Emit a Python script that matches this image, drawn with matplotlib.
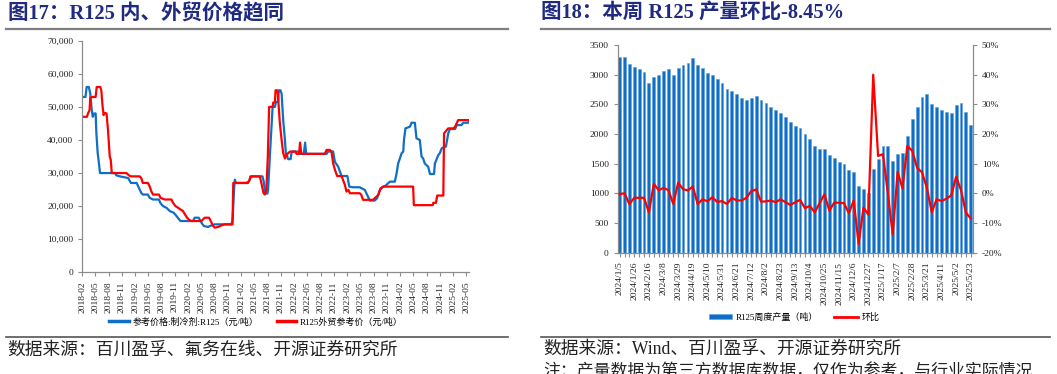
import numpy as np
import pandas as pd
import matplotlib
matplotlib.use("Agg")
import matplotlib.pyplot as plt
import matplotlib.dates as mdates
from matplotlib.lines import Line2D
from matplotlib.patches import Patch
from matplotlib.ticker import FuncFormatter

plt.rcParams['font.family'] = ['Liberation Serif', 'Noto Sans CJK SC']
plt.rcParams['axes.unicode_minus'] = False

# --- 图17 数据：R125 内、外贸价格 (元/吨) ---
blue_dates = ['2018-02-01', '2018-02-23', '2018-03-03', '2018-03-18', '2018-03-28', '2018-04-07',
              '2018-04-14', '2018-04-23', '2018-05-04', '2018-05-09', '2018-05-18', '2018-05-24',
              '2018-06-03', '2018-09-13', '2018-09-24', '2018-10-17', '2018-12-14', '2019-01-02',
              '2019-02-10', '2019-02-21', '2019-03-14', '2019-03-25', '2019-04-29', '2019-05-11',
              '2019-06-03', '2019-07-14', '2019-07-23', '2019-08-11', '2019-09-04', '2019-09-27',
              '2019-10-24', '2019-11-12', '2019-11-30', '2019-12-09', '2020-03-05', '2020-03-16',
              '2020-04-13', '2020-05-02', '2020-05-18', '2020-06-17', '2020-06-28', '2020-08-02',
              '2020-11-25', '2020-12-02', '2020-12-14', '2020-12-18', '2020-12-25', '2021-03-07',
              '2021-03-25', '2021-04-04', '2021-04-16', '2021-06-26', '2021-07-05', '2021-07-14',
              '2021-07-23', '2021-07-30', '2021-08-04', '2021-08-16', '2021-09-04', '2021-09-20',
              '2021-09-27', '2021-10-12', '2021-10-17', '2021-10-28', '2021-11-05', '2021-11-16',
              '2021-11-28', '2021-12-04', '2021-12-14', '2021-12-20', '2022-01-06', '2022-01-13',
              '2022-01-24', '2022-02-28', '2022-03-09', '2022-04-07', '2022-04-16', '2022-04-23',
              '2022-09-11', '2022-09-22', '2022-10-26', '2022-11-07', '2022-11-30', '2022-12-23',
              '2023-02-01', '2023-02-14', '2023-03-12', '2023-04-27', '2023-06-01', '2023-06-23',
              '2023-07-05', '2023-08-09', '2023-08-25', '2023-09-13', '2023-10-06', '2023-10-17',
              '2023-11-21', '2023-12-25', '2024-01-06', '2024-01-17', '2024-02-10', '2024-02-21',
              '2024-02-26', '2024-03-07', '2024-04-07', '2024-04-18', '2024-05-11', '2024-05-22',
              '2024-06-14', '2024-06-26', '2024-07-07', '2024-07-18', '2024-08-11', '2024-08-23',
              '2024-09-20', '2024-09-26', '2024-10-19', '2024-10-30', '2024-11-12', '2024-12-11',
              '2024-12-27', '2025-01-08', '2025-02-12', '2025-02-24', '2025-03-28', '2025-04-09',
              '2025-05-13', '2025-05-20']
blue_vals = [53000, 53000, 56000, 56000, 54000, 49000,
             47000, 48000, 48000, 42000, 36000, 34000,
             30000, 30000, 29300, 29000, 28500, 27000,
             27000, 26000, 24000, 23500, 23500, 22500,
             22000, 22000, 21000, 20000, 19500, 18500,
             18000, 17000, 16000, 15500, 15500, 16500,
             16500, 15000, 14000, 13700, 14000, 14500,
             14500, 16000, 26000, 28000, 27000, 27000,
             27500, 28500, 29000, 29000, 27400, 24400,
             23800, 23800, 25000, 35000, 50000, 50000,
             51500, 51500, 55000, 55000, 54000, 46000,
             40000, 36000, 35000, 34200, 34200, 36300,
             36500, 36500, 35800, 35800, 39200, 35800,
             35800, 36500, 36500, 33400, 31900, 29100,
             29100, 25900, 25700, 25700, 24900, 22900,
             21700, 21700, 22400, 24900, 25900, 26000,
             27400, 27400, 29900, 32900, 36000, 36500,
             40000, 43500, 44000, 45200, 45200, 40500,
             40000, 35000, 34400, 32900, 31900, 29700,
             29700, 32900, 35400, 36000, 37500, 38000,
             42000, 43300, 43300, 44500, 44500, 45200,
             45200, 45800]

red_dates = ['2018-02-01', '2018-03-05', '2018-03-12', '2018-03-23', '2018-03-28', '2018-04-11',
             '2018-05-04', '2018-05-11', '2018-06-05', '2018-06-12', '2018-06-21', '2018-06-28',
             '2018-07-03', '2018-07-18', '2018-07-28', '2018-08-09', '2018-08-16', '2018-08-23',
             '2018-12-02', '2018-12-14', '2018-12-29', '2019-03-03', '2019-03-14', '2019-03-25',
             '2019-04-29', '2019-05-11', '2019-05-22', '2019-06-03', '2019-07-14', '2019-07-25',
             '2019-08-23', '2019-10-08', '2019-10-19', '2019-11-05', '2019-11-23', '2019-12-09',
             '2019-12-27', '2020-01-09', '2020-01-24', '2020-02-08', '2020-02-24', '2020-05-02',
             '2020-05-13', '2020-05-24', '2020-06-23', '2020-07-05', '2020-07-21', '2020-08-02',
             '2020-08-25', '2020-09-17', '2020-10-10', '2020-12-02', '2020-12-07', '2021-03-18',
             '2021-03-30', '2021-04-04', '2021-06-08', '2021-06-21', '2021-07-03', '2021-07-12',
             '2021-07-23', '2021-08-02', '2021-08-11', '2021-09-04', '2021-09-08', '2021-09-20',
             '2021-09-24', '2021-10-06', '2021-10-10', '2021-10-24', '2021-11-05', '2021-11-16',
             '2021-11-21', '2021-11-28', '2021-12-09', '2021-12-20', '2022-01-02', '2022-02-06',
             '2022-02-17', '2022-03-05', '2022-03-12', '2022-03-21', '2022-08-29', '2022-09-11',
             '2022-10-03', '2022-10-14', '2022-10-26', '2022-11-07', '2022-11-23', '2022-12-23',
             '2023-01-15', '2023-01-26', '2023-02-08', '2023-02-19', '2023-04-27', '2023-05-08',
             '2023-05-20', '2023-07-28', '2023-09-02', '2023-09-18', '2023-10-06', '2024-04-29',
             '2024-05-04', '2024-09-11', '2024-09-15', '2024-10-03', '2024-10-12', '2024-11-23',
             '2024-11-28', '2024-12-27', '2025-02-01', '2025-02-12', '2025-03-05', '2025-05-20']
red_vals = [47000, 47000, 48000, 49000, 52800, 53000,
            53000, 56000, 56000, 55000, 50000, 47500,
            48200, 48000, 43000, 35000, 34000, 30000,
            30000, 29500, 29000, 29000, 28500, 27000,
            27000, 26000, 24500, 23500, 23500, 22500,
            22000, 22000, 21000, 20000, 19500, 19000,
            18500, 17500, 16500, 15800, 15500, 15500,
            16000, 16500, 16500, 15500, 14000, 13500,
            13700, 14200, 14500, 14500, 27000, 27000,
            28000, 29000, 29000, 26500, 24000, 23500,
            25000, 35000, 50000, 50000, 51300, 51300,
            55000, 55000, 54000, 45000, 40000, 36000,
            35400, 34400, 35500, 36000, 36500, 36500,
            35800, 35800, 39200, 35800, 35800, 37000,
            37000, 36500, 33000, 31000, 29100, 29100,
            26400, 24400, 24900, 23900, 23900, 23400,
            21900, 21900, 23400, 25400, 25900, 25900,
            20300, 20300, 21000, 21000, 23200, 23200,
            42000, 43500, 43500, 44000, 46000, 46000]

left_ticks = pd.date_range('2018-02-01', '2025-05-01', freq='3MS')

# --- 图18 数据：R125 周度产量 (吨) 与环比 (%) ---
weeks = pd.date_range('2024-01-05', '2025-05-23', freq='7D')
week_labels = [f"{d.year}/{d.month}/{d.day}" for d in weeks]
output = [3290, 3300, 3180, 3135, 3090, 3050, 2860, 2955, 3000, 3062,
          3100, 2995, 3107, 3163, 3202, 3278, 3163, 3112, 3034, 3000,
          2921, 2860, 2755, 2725, 2669, 2607, 2575, 2607, 2646, 2575,
          2517, 2461, 2399, 2360, 2287, 2197, 2135, 2096, 1994, 1910,
          1792, 1742, 1742, 1640, 1590, 1534, 1489, 1388, 1360, 1129,
          1073, 1000, 1404, 1584, 1798, 1798, 1539, 1663, 1685, 1966,
          2253, 2449, 2629, 2680, 2506, 2455, 2399, 2365, 2354, 2494,
          2522, 2365, 2157]
mom = [-0.2, 0.0, -3.6, -1.5, -1.5, -1.5, -6.4, 3.2, 1.1, 1.8,
       1.1, -3.6, 3.6, 1.4, 1.0, 2.3, -3.6, -2.0, -2.7, -1.3,
       -2.9, -2.6, -3.6, -1.5, -2.4, -2.4, -1.5, 0.8, 1.3, -2.8,
       -2.7, -2.4, -3.0, -2.0, -3.0, -3.9, -3.0, -2.2, -5.0, -4.2,
       -6.4, -3.3, -0.3, -5.8, -3.1, -3.2, -3.3, -6.7, -2.4, -17.0,
       -4.8, -7.2, 40.0, 12.6, 13.2, 0.0, -13.9, 7.2, 1.7, 16.0,
       14.3, 8.6, 7.1, 1.9, -6.4, -2.0, -2.6, -1.8, -0.7, 5.6,
       1.1, -6.5, -8.45]

BLUE = '#0F6FC6'
RED = '#FF0000'
NAVY = '#1F2A80'
SPINE = '#8C8C8C'
TXT = '#222222'

fig = plt.figure(figsize=(10.57, 3.74), dpi=100)


def style_axis(ax, sides):
    for s in ['top', 'right', 'left', 'bottom']:
        ax.spines[s].set_visible(s in sides)
        ax.spines[s].set_color(SPINE)
        ax.spines[s].set_linewidth(0.9)
    ax.tick_params(colors=SPINE, labelcolor=TXT, labelsize=6.8, length=3, width=0.8)


# ---------- 左图 ----------
ax1 = fig.add_axes([82.3 / 1057, 1 - 272.3 / 374, (469.3 - 82.3) / 1057, (272.3 - 40.7) / 374])
ax1.plot(pd.to_datetime(blue_dates), blue_vals, color=BLUE, lw=1.6)
ax1.plot(pd.to_datetime(red_dates), red_vals, color=RED, lw=1.6)
ax1.set_ylim(0, 70000)
ax1.set_yticks(np.arange(0, 70001, 10000))
ax1.yaxis.set_major_formatter(FuncFormatter(lambda v, p: f"{v:,.0f}"))
ax1.set_xlim(pd.Timestamp('2018-02-01'), pd.Timestamp('2025-05-21'))
ax1.set_xticks(left_ticks)
ax1.xaxis.set_major_formatter(mdates.DateFormatter('%Y-%m'))
style_axis(ax1, ['left', 'bottom'])
for lb in ax1.get_xticklabels():
    lb.set_rotation(90)

h1 = [Line2D([], [], color=BLUE, lw=2.5), Line2D([], [], color=RED, lw=2.5)]
fig.legend(h1, ['参考价格:制冷剂:R125（元/吨）', 'R125外贸参考价（元/吨）'],
           loc='center', bbox_to_anchor=(256 / 1057, 1 - 322 / 374), ncol=2, frameon=False,
           fontsize=6.5, handlelength=2.2, columnspacing=2.0, handletextpad=0.4)

# ---------- 右图 ----------
ax2 = fig.add_axes([617.7 / 1057, 1 - 252.7 / 374, (972.7 - 617.7) / 1057, (252.7 - 45) / 374])
x = np.arange(len(output))
ax2.bar(x, output, width=0.58, color=BLUE, edgecolor='#5FA0DC', linewidth=0.4, zorder=2)
ax2.set_ylim(0, 3500)
ax2.set_yticks(np.arange(0, 3501, 500))
ax2.set_xlim(-0.4, len(output) - 0.6)
ax2.set_xticks(x)
ax2.set_xticklabels([lb if i % 3 == 0 else '' for i, lb in enumerate(week_labels)], rotation=90)
style_axis(ax2, ['left', 'bottom'])

ax3 = ax2.twinx()
ax3.plot(x, mom, color=RED, lw=1.6, zorder=3)
ax3.set_ylim(-20, 50)
ax3.set_yticks(np.arange(-20, 51, 10))
ax3.yaxis.set_major_formatter(FuncFormatter(lambda v, p: f"{v:.0f}%"))
style_axis(ax3, ['right'])

h2 = [Patch(facecolor=BLUE, edgecolor='#5FA0DC', lw=0.4), Line2D([], [], color=RED, lw=2.0)]
fig.legend(h2, ['R125周度产量（吨）', '环比'],
           loc='center', bbox_to_anchor=(794 / 1057, 1 - 317 / 374), ncol=2, frameon=False,
           fontsize=6.5, handlelength=2.6, handleheight=0.5, columnspacing=1.8, handletextpad=0.4)

# ---------- 标题、分隔线、来源 ----------
fig.text(8 / 1057, 1 - 14 / 374, '图17：R125 内、外贸价格趋同', fontsize=14.8, fontweight='bold',
         color=NAVY, va='center', ha='left')
fig.text(541 / 1057, 1 - 14 / 374, '图18：本周 R125 产量环比-8.45%', fontsize=14.8, fontweight='bold',
         color=NAVY, va='center', ha='left')

for x0, x1 in [(6, 508), (541, 1050)]:
    fig.add_artist(Line2D([x0 / 1057, x1 / 1057], [1 - 29 / 374] * 2, color='#7F7F7F', lw=1.6))
    fig.add_artist(Line2D([x0 / 1057, x1 / 1057], [1 - 336.7 / 374] * 2, color='#555555', lw=1.2))

fig.text(7 / 1057, 1 - 349.5 / 374, '数据来源：百川盈孚、氟务在线、开源证券研究所',
         fontsize=12.8, color=TXT, va='center', ha='left', family=['Noto Sans CJK SC'])
fig.text(543 / 1057, 1 - 349.5 / 374, '数据来源：Wind、百川盈孚、开源证券研究所',
         fontsize=12.8, color=TXT, va='center', ha='left', family=['Liberation Serif', 'Noto Sans CJK SC'])
fig.text(543 / 1057, 1 - 371 / 374, '注：产量数据为第三方数据库数据，仅作为参考，与行业实际情况',
         fontsize=12.2, color=TXT, va='center', ha='left', family=['Noto Sans CJK SC'])

fig.savefig('out.png', dpi=100)
